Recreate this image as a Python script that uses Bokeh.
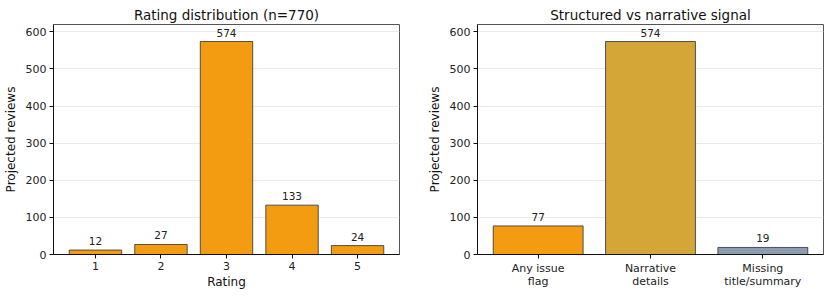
from bokeh.plotting import figure
from bokeh.layouts import row
from bokeh.models import ColumnDataSource, Range1d, FixedTicker
from bokeh.embed import file_html
from bokeh.resources import INLINE
from bokeh.core.properties import value

# Rating distribution
ratings = [1, 2, 3, 4, 5]
rating_counts = [12, 27, 574, 133, 24]
n_total = 770

# Structured vs narrative signal
signal_labels = ["Any issue\nflag", "Narrative\ndetails", "Missing\ntitle/summary"]
signal_counts = [77, 574, 19]
signal_colors = ["#f39c12", "#d4a537", "#8d9bb1"]

FONT = "DejaVu Sans"
EDGE = "#2b2f36"
BAR_W = 0.8


def style(p, xlabel=None):
    p.title.text_font = FONT
    p.title.text_font_size = "13.5px"
    p.title.text_font_style = "normal"
    p.title.align = "center"
    p.title.text_color = "#111111"
    p.title.offset = 0
    p.title.standoff = 4
    p.outline_line_color = "#555555"
    p.outline_line_width = 1
    p.xgrid.grid_line_color = None
    p.ygrid.grid_line_color = "#e6e6e6"
    p.ygrid.grid_line_width = 0.8
    for ax in (p.xaxis[0], p.yaxis[0]):
        ax.axis_line_color = "#111111"
        ax.axis_line_width = 1
        ax.major_tick_line_color = "#111111"
        ax.major_tick_out = 4
        ax.major_tick_in = 0
        ax.minor_tick_line_color = None
        ax.major_label_text_font = FONT
        ax.major_label_text_font_size = "11px"
        ax.major_label_text_color = "#222222"
        ax.major_label_text_line_height = 1.0
        ax.major_label_standoff = 3
        ax.axis_label_text_font = FONT
        ax.axis_label_text_font_size = "12px"
        ax.axis_label_text_font_style = "normal"
        ax.axis_label_text_color = "#111111"
        ax.axis_label_standoff = 5
    p.yaxis[0].ticker = FixedTicker(ticks=[0, 100, 200, 300, 400, 500, 600])
    p.yaxis[0].axis_label = "Projected reviews"
    if xlabel:
        p.xaxis[0].axis_label = xlabel
        p.xaxis[0].axis_label_standoff = 2


# Left panel
p1 = figure(width=415, height=297, output_backend="svg", toolbar_location=None,
            title=f"Rating distribution (n={n_total})",
            x_range=Range1d(0.36, 5.64), y_range=Range1d(0, 619.9),
            min_border_left=53, min_border_right=16, min_border_top=24, min_border_bottom=43)
src1 = ColumnDataSource(dict(x=ratings, top=rating_counts, lbl=[str(v) for v in rating_counts]))
p1.vbar(x="x", top="top", width=BAR_W, source=src1, fill_color="#f39c12",
        line_color=EDGE, line_width=0.8)
p1.text(x="x", y="top", text="lbl", source=src1, text_align="center", text_baseline="bottom",
        y_offset=-5, text_font=value(FONT), text_font_size="10.5px", text_color="#222222")
style(p1, "Rating")
p1.xaxis[0].ticker = FixedTicker(ticks=ratings)

# Right panel
xs = list(range(len(signal_counts)))
p2 = figure(width=415, height=297, output_backend="svg", toolbar_location=None,
            title="Structured vs narrative signal",
            x_range=Range1d(-0.54, 2.54), y_range=Range1d(0, 619.9),
            min_border_left=62, min_border_right=7, min_border_top=24, min_border_bottom=43)
src2 = ColumnDataSource(dict(x=xs, top=signal_counts, color=signal_colors,
                             lbl=[str(v) for v in signal_counts]))
p2.vbar(x="x", top="top", width=BAR_W, source=src2, fill_color="color",
        line_color=EDGE, line_width=0.8)
p2.text(x="x", y="top", text="lbl", source=src2, text_align="center", text_baseline="bottom",
        y_offset=-5, text_font=value(FONT), text_font_size="10.5px", text_color="#222222")
style(p2)
p2.xaxis[0].ticker = FixedTicker(ticks=xs)
p2.xaxis[0].major_label_overrides = {i: s for i, s in zip(xs, signal_labels)}

layout = row(p1, p2)
open("out.html", "w").write(file_html(layout, INLINE))
